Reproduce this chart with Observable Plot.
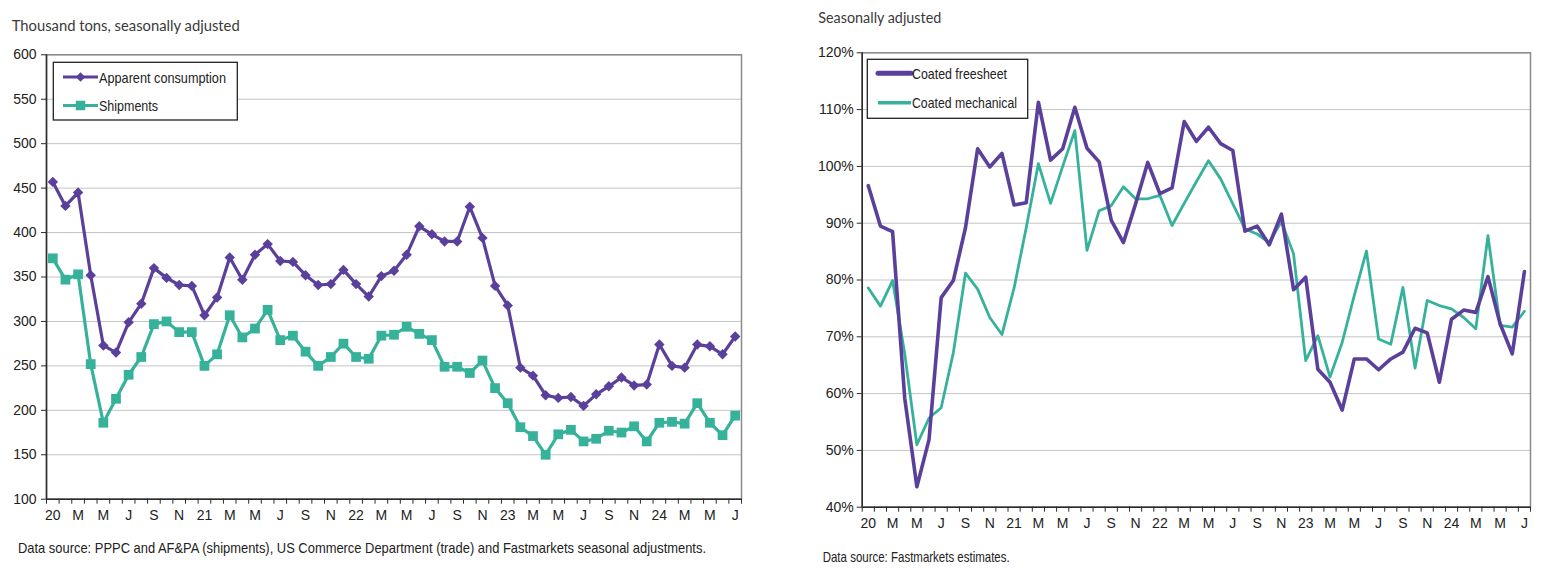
<!DOCTYPE html>
<html>
<head>
<meta charset="utf-8">
<script src="https://cdn.jsdelivr.net/npm/d3@7"></script>
<script src="https://cdn.jsdelivr.net/npm/@observablehq/plot@0.6"></script>
<style>
  html, body { margin: 0; padding: 0; background: #fff; }
  body { position: relative; width: 1542px; height: 571px; overflow: hidden; }
  .chart { position: absolute; top: 0; }
  #overlay { position: absolute; left: 0; top: 0; pointer-events: none; }
</style>
</head>
<body>
<div id="left" class="chart" style="left:0px"></div>
<div id="right" class="chart" style="left:771px"></div>
<script>
// ---------- data ----------
const months = [
  "2020-01","2020-02","2020-03","2020-04","2020-05","2020-06","2020-07","2020-08","2020-09","2020-10","2020-11","2020-12",
  "2021-01","2021-02","2021-03","2021-04","2021-05","2021-06","2021-07","2021-08","2021-09","2021-10","2021-11","2021-12",
  "2022-01","2022-02","2022-03","2022-04","2022-05","2022-06","2022-07","2022-08","2022-09","2022-10","2022-11","2022-12",
  "2023-01","2023-02","2023-03","2023-04","2023-05","2023-06","2023-07","2023-08","2023-09","2023-10","2023-11","2023-12",
  "2024-01","2024-02","2024-03","2024-04","2024-05","2024-06","2024-07"
];
const tickLabels = ["20","M","M","J","S","N","21","M","M","J","S","N","22","M","M","J","S","N","23","M","M","J","S","N","24","M","M","J"];

const apparentConsumption = [457,430,445,352,273,265,299,320,360,349,341,340,307,327,372,347,375,387,368,367,352,341,342,358,342,328,351,357,375,407,398,390,390,429,394,340,318,248,239,217,214,215,205,218,227,237,228,229,274,250,248,274,272,263,283];
const shipments = [371,347,353,252,186,213,240,260,297,300,288,288,250,263,307,282,292,313,279,284,266,250,260,275,260,258,284,285,294,286,279,249,249,242,256,225,208,181,171,150,173,178,165,168,177,175,182,165,186,187,185,208,186,172,194];

const coatedFreesheet = [96.6,89.5,88.5,59.2,43.6,51.9,76.9,79.9,89.2,103.1,99.9,102.3,93.2,93.6,111.3,101.1,103.1,110.4,103.2,100.8,90.5,86.6,93.4,100.7,95.2,96.2,107.9,104.4,106.9,104.0,102.8,88.6,89.5,86.2,91.6,78.3,80.5,64.3,62.0,57.1,66.1,66.1,64.2,66.1,67.3,71.5,70.7,62.0,73.1,74.7,74.3,80.6,72.3,67.0,81.5];
const coatedMechanical = [78.6,75.4,79.9,67.0,51.0,55.7,57.5,67.2,81.2,78.4,73.4,70.4,78.6,89.2,100.5,93.5,100.0,106.3,85.2,92.2,93.1,96.4,94.3,94.3,94.9,89.6,93.5,97.3,101.0,97.8,93.4,89.0,88.1,86.6,90.3,84.6,65.8,70.2,62.9,69.0,77.3,85.1,69.6,68.7,78.7,64.5,76.4,75.5,74.9,73.4,71.4,87.8,72.0,71.7,74.5];

const leftYTicks = [100,150,200,250,300,350,400,450,500,550,600];
const rightYTicks = [40,50,60,70,80,90,100,110,120];

// ---------- styling ----------
const PURPLE = "#5a409b";
const TEAL = "#36b29b";
const GRID = "#c4c4c4";
const AXIS = "#2a2a2a";
const FRAME = "#8a8a8a";
const FONT = "'Liberation Sans', Arial, sans-serif";

const idx = months.map((m, i) => i);
const labelTicks = tickLabels.map((t, k) => k * 2);
const boundaryTicks = idx.map(i => i - 0.5).concat([months.length - 0.5]);
const xDomain = [-0.5, months.length - 0.5];

function baseMarks(yTicks, yFmt, yTickPad) {
  return [
    Plot.gridY(yTicks, {stroke: GRID, strokeOpacity: 1, strokeWidth: 1}),
    Plot.frame({stroke: FRAME, strokeWidth: 1.5}),
    Plot.ruleX([xDomain[0]], {stroke: AXIS, strokeWidth: 1.5}),
    Plot.ruleY([yTicks[0]], {stroke: AXIS, strokeWidth: 1.5}),
    Plot.axisY(yTicks, {tickSize: 5, tickPadding: yTickPad, tickFormat: yFmt, label: null, stroke: AXIS, fill: "#222"}),
    Plot.axisX(boundaryTicks, {tickSize: 5, tickFormat: () => "", label: null, stroke: AXIS}),
    Plot.axisX(labelTicks, {tickSize: 0, tickPadding: 11, tickFormat: d => tickLabels[d / 2], label: null, fill: "#222"})
  ];
}

// ---------- left chart ----------
const leftChart = Plot.plot({
  width: 771, height: 540,
  marginLeft: 46, marginRight: 30, marginTop: 54.3, marginBottom: 41.3,
  style: {fontFamily: FONT, fontSize: "14px", background: "transparent", color: "#222"},
  x: {domain: xDomain},
  y: {domain: [100, 600]},
  marks: [
    ...baseMarks(leftYTicks, d => String(d), 5),
    Plot.line(idx, {x: i => i, y: i => shipments[i], stroke: TEAL, strokeWidth: 3.2}),
    Plot.dot(idx, {x: i => i, y: i => shipments[i], symbol: "square", fill: TEAL, stroke: null, r: 5.5}),
    Plot.line(idx, {x: i => i, y: i => apparentConsumption[i], stroke: PURPLE, strokeWidth: 3.2}),
    Plot.dot(idx, {x: i => i, y: i => apparentConsumption[i], symbol: "diamond2", fill: PURPLE, stroke: null, r: 4.7})
  ]
});
document.getElementById("left").appendChild(leftChart);

// ---------- right chart ----------
const rightChart = Plot.plot({
  width: 771, height: 540,
  marginLeft: 90.7, marginRight: 12, marginTop: 52.3, marginBottom: 33.3,
  style: {fontFamily: FONT, fontSize: "14px", background: "transparent", color: "#222"},
  x: {domain: xDomain},
  y: {domain: [40, 120]},
  marks: [
    ...baseMarks(rightYTicks, d => d + "%", 3.5),
    Plot.line(idx, {x: i => i, y: i => coatedMechanical[i], stroke: TEAL, strokeWidth: 2.8}),
    Plot.line(idx, {x: i => i, y: i => coatedFreesheet[i], stroke: PURPLE, strokeWidth: 3.6})
  ]
});
document.getElementById("right").appendChild(rightChart);

// ---------- titles, legends, captions ----------
const ov = d3.select("body").append("svg")
  .attr("id", "overlay").attr("width", 1542).attr("height", 571);

function label(x, y, s, opts = {}) {
  const t = ov.append("text")
    .attr("x", x).attr("y", y)
    .attr("dominant-baseline", "central")
    .attr("font-family", opts.family || FONT)
    .attr("font-size", opts.size || 14)
    .attr("fill", opts.fill || "#222")
    .text(s);
  if (opts.len) t.attr("textLength", opts.len).attr("lengthAdjust", "spacingAndGlyphs");
  return t;
}

// titles
label(11.7, 24.5, "Thousand tons, seasonally adjusted", {family: "Lato, 'Open Sans', sans-serif", size: 15.5, fill: "#3a3a3a", len: 228});
label(818.3, 16.5, "Seasonally adjusted", {family: "Lato, 'Open Sans', sans-serif", size: 15.5, fill: "#3a3a3a", len: 123});

// left legend
ov.append("rect").attr("x", 53.3).attr("y", 62.3).attr("width", 184).attr("height", 57.7)
  .attr("fill", "#fff").attr("stroke", "#222").attr("stroke-width", 1.3);
ov.append("line").attr("x1", 63).attr("x2", 98).attr("y1", 77).attr("y2", 77).attr("stroke", PURPLE).attr("stroke-width", 3);
ov.append("path").attr("d", d3.symbol(d3.symbolDiamond2, 58)()).attr("transform", "translate(80.5,77)").attr("fill", PURPLE);
label(99, 77, "Apparent consumption", {size: 15, len: 127});
ov.append("line").attr("x1", 63).attr("x2", 98).attr("y1", 105.5).attr("y2", 105.5).attr("stroke", TEAL).attr("stroke-width", 3);
ov.append("path").attr("d", d3.symbol(d3.symbolSquare, 90)()).attr("transform", "translate(80.5,105.5)").attr("fill", TEAL);
label(99, 105.5, "Shipments", {size: 15, len: 59});

// right legend
ov.append("rect").attr("x", 867.3).attr("y", 59.3).attr("width", 160.4).attr("height", 59)
  .attr("fill", "#fff").attr("stroke", "#222").attr("stroke-width", 1.3);
ov.append("line").attr("x1", 878).attr("x2", 911).attr("y1", 73.3).attr("y2", 73.3).attr("stroke", PURPLE).attr("stroke-width", 5).attr("stroke-linecap", "round");
label(912, 73.3, "Coated freesheet", {size: 15, len: 95});
ov.append("line").attr("x1", 878).attr("x2", 911).attr("y1", 102.7).attr("y2", 102.7).attr("stroke", TEAL).attr("stroke-width", 3.5);
label(912, 102.7, "Coated mechanical", {size: 15, len: 105});

// captions
label(18, 547, "Data source: PPPC and AF&PA (shipments), US Commerce Department (trade) and Fastmarkets seasonal adjustments.", {size: 15, len: 688});
label(822.7, 556, "Data source: Fastmarkets estimates.", {size: 15, len: 187});
</script>
</body>
</html>
